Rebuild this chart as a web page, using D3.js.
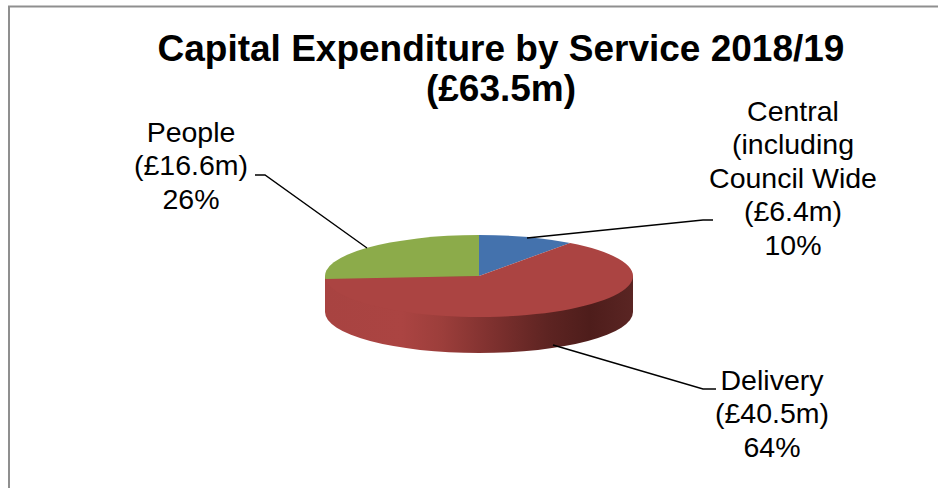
<!DOCTYPE html>
<html>
<head>
<meta charset="utf-8">
<script src="https://cdn.jsdelivr.net/npm/d3@7/dist/d3.min.js"></script>
<style>
html,body{margin:0;padding:0;background:#fff}
svg{display:block}
text{font-family:"Liberation Sans",Arial,sans-serif;fill:#000;text-anchor:middle}
</style>
</head>
<body>
<svg id="chart" width="938" height="488"></svg>
<script>
const services = ["Central", "Delivery", "People"];
const spend = [6.4, 40.5, 16.6];
const sliceColors = ["#4472ad", "#ab4442", "#8cab4a"];
const titleLines = ["Capital Expenditure by Service 2018/19", "(£63.5m)"];
const labelLines = [
  ["Central", "(including", "Council Wide", "(£6.4m)", "10%"],
  ["Delivery", "(£40.5m)", "64%"],
  ["People", "(£16.6m)", "26%"]
];

const svg = d3.select("#chart");
const cx = 479, cy = 276, rx = 154, ry = 41, depth = 36;

// Frame: only the top and left edges show inside the window
svg.append("path")
  .attr("d", "M9,488V6.5H938")
  .attr("fill", "none").attr("stroke", "#8f8f8f").attr("stroke-width", 2);

// Horizontal shading on the rim of the disc
const shade = svg.append("defs").append("linearGradient")
  .attr("id", "rim").attr("gradientUnits", "userSpaceOnUse")
  .attr("x1", cx - rx).attr("x2", cx + rx).attr("y1", 0).attr("y2", 0);
[[0, "#a84341"], [0.25, "#ab4442"], [0.38, "#9c3e3b"], [0.55, "#7d302e"],
 [0.72, "#5e2422"], [0.86, "#4e1d1b"], [1, "#5a2523"]]
  .forEach(([o, c]) => shade.append("stop").attr("offset", o).attr("stop-color", c));

// Rim: lower half of the ellipse, swept down by the disc depth
svg.append("path")
  .attr("d", `M${cx - rx},${cy}V${cy + depth}A${rx},${ry} 0 0 0 ${cx + rx},${cy + depth}V${cy}Z`)
  .attr("fill", "url(#rim)");

// Top face: a flat pie squashed into an ellipse
const pie = d3.pie().sort(null)(spend);
const arc = d3.arc().innerRadius(0).outerRadius(rx);
svg.append("g")
  .attr("transform", `translate(${cx},${cy}) scale(1,${ry / rx})`)
  .selectAll("path").data(pie).join("path")
  .attr("d", arc)
  .attr("fill", (d, i) => sliceColors[i]);

// Leader lines
const leaders = d3.line();
[
  [[527, 238], [703, 220], [713, 220]],
  [[553, 345], [703, 389], [716, 389]],
  [[367, 248], [265, 175], [255, 175]]
].forEach(pts => svg.append("path")
  .attr("d", leaders(pts))
  .attr("fill", "none").attr("stroke", "#000").attr("stroke-width", 1.4));

// Title
svg.append("g").selectAll("text").data(titleLines).join("text")
  .attr("x", 501)
  .attr("y", (d, i) => 61 + i * 40)
  .attr("font-size", 37).attr("font-weight", 700)
  .text(d => d);

// Data labels
const labelAnchors = [[793, 121], [772, 390], [191, 142]];
const labelGroups = svg.append("g").selectAll("g").data(labelLines).join("g")
  .attr("transform", (d, i) => `translate(${labelAnchors[i][0]},${labelAnchors[i][1]})`);
labelGroups.selectAll("text").data(d => d).join("text")
  .attr("y", (d, i) => i * 33.4)
  .attr("font-size", 28.5)
  .text(d => d);
</script>
</body>
</html>
